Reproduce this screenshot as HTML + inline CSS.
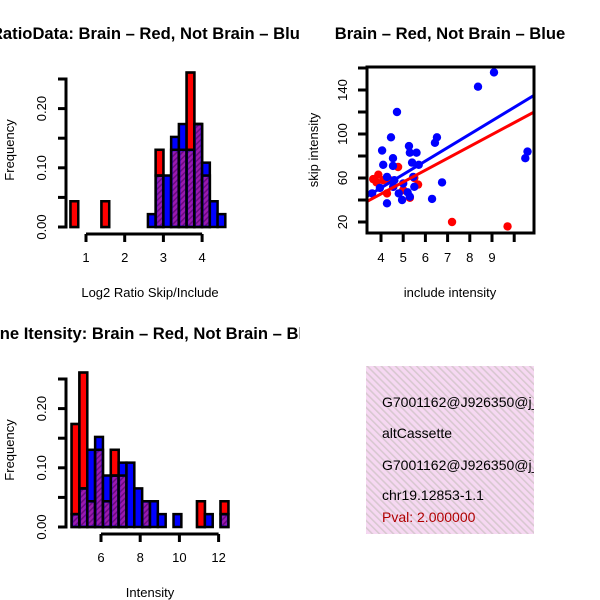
<!DOCTYPE html>
<html><head><meta charset="utf-8"><style>
html,body{margin:0;padding:0;background:#fff;}
svg{display:block;font-family:"Liberation Sans",sans-serif;}
</style></head><body>
<svg id="s" width="600" height="600" viewBox="0 0 600 600">
<defs>
<pattern id="ph" width="4" height="4" patternUnits="userSpaceOnUse" patternTransform="rotate(45)">
<rect width="4" height="4" fill="#9a1ab0"/><rect width="1.5" height="4" fill="#6a0a80"/></pattern>
<pattern id="pk" width="5" height="5" patternUnits="userSpaceOnUse" patternTransform="rotate(-45)">
<rect width="5" height="5" fill="#f6d8f2"/><rect width="1.6" height="5" fill="#d8c8d0"/></pattern>
<clipPath id="c1"><rect x="0" y="0" width="300" height="300"/></clipPath>
<clipPath id="c3"><rect x="0" y="300" width="300" height="300"/></clipPath>
<clipPath id="c2"><rect x="367" y="67" width="167" height="166"/></clipPath>
<clipPath id="c4"><rect x="366" y="366" width="168" height="168"/></clipPath>
</defs>
<g id="p1"></g>
<g id="p3"></g>
<g id="p2"></g>
<g clip-path="url(#c4)">
<rect x="366" y="366" width="168" height="168" fill="url(#pk)"/>
<text x="382" y="407" font-size="14">G7001162@J926350@j_at</text>
<text x="382" y="438" font-size="14">altCassette</text>
<text x="382" y="470" font-size="14">G7001162@J926350@j_at</text>
<text x="382" y="500" font-size="14">chr19.12853-1.1</text>
<text x="382" y="522" font-size="14" fill="#b00000">Pval: 2.000000</text>
</g>
</svg>
<script>
// ---- histogram 1 data (counts per bin) ----
const h1Breaks0 = 0.6, h1BinW = 0.2;
const h1Red  = [1,0,0,0,1,0,0,0,0,0,0,3,0,3,3,6,4,2,0,0];
const h1Blue = [0,0,0,0,0,0,0,0,0,0,1,4,4,7,8,6,8,5,2,1];
const h1XTicks = [1,2,3,4];
const h1YTicks = ["0.00","0.10","0.20"];
// ---- histogram 2 data ----
const h2Breaks0 = 4.5, h2BinW = 0.4;
const h2Red  = [4,6,1,3,1,3,2,0,0,1,0,0,0,0,0,0,1,0,0,1];
const h2Blue = [1,3,6,7,4,4,5,5,3,2,2,1,0,1,0,0,0,1,0,1];
const h2XTicks = [6,8,10,12];
const h2YTicks = ["0.00","0.10","0.20"];
// ---- scatter data ----
const blueX = [9.09,8.37,4.72,4.45,6.52,6.43,4.05,5.26,5.3,5.6,4.54,4.54,4.1,5.4,5.7,10.5,10.6,6.75,6.3,4.27,4.95,5.3,4.27,3.95,4.6,5.0,5.45,5.2,4.8,3.6,5.5,4.55];
const blueY = [156,143,120,97,97,92,85,89,83,83,78,71,72,74,72,78,84,56,41,37,40,43,61,51,58,55,61,47,46,46,52,52];
const redX = [3.65,3.88,3.8,4.1,4.77,5.5,5.67,4.55,4.27,5.3,7.2,9.7,4.4,5.0];
const redY = [59,63,56,58,70,60,54,52,46,42,20,16,58,49];
const blueFit = [2.2,12.2];
const redFit = [2.3,10.8];
const scXTicks = [4,5,6,7,8,9,10];
const scXLabels = ["4","5","6","7","8","9",""];
const scYTicks = [20,40,60,80,100,120,140,160];
const scYLabels = ["20","","60","","100","","140",""];

const NS="http://www.w3.org/2000/svg";
function mk(parent,tag,attrs,txt){const e=document.createElementNS(NS,tag);for(const k in attrs)e.setAttribute(k,attrs[k]);if(txt!==undefined)e.textContent=txt;parent.appendChild(e);return e;}

function hist(gid, oy, breaks0, binW, red, blue, xTicks, xScale, yTicks, title, xlabel, clip){
  const g=document.getElementById(gid);
  const nR=red.reduce((a,b)=>a+b,0), nB=blue.reduce((a,b)=>a+b,0);
  const y0=227+oy, pxPer=592;
  const Y=v=>y0-v*pxPer;
  const X=xScale;
  for(let i=0;i<red.length;i++){
    const x1=X(breaks0+i*binW), x2=X(breaks0+(i+1)*binW);
    const r=red[i]/nR, b=blue[i]/nB, m=Math.min(r,b);
    const rr=mk(g,'rect',{x:x1,y:Y(r),width:x2-x1,height:r*pxPer,fill:'#ff0000',stroke:'#000','stroke-width':2.5});
    
    
    const br=mk(g,'rect',{x:x1,y:Y(b),width:x2-x1,height:b*pxPer,fill:'#0000ff',stroke:'#000','stroke-width':2.5});
    
    
    if(r>b){
      const r2=mk(g,'rect',{x:x1,y:Y(r),width:x2-x1,height:(r-b)*pxPer,fill:'#ff0000',stroke:'#000','stroke-width':2.5});
      
      
    }
    if(m>0){
      const p=mk(g,'rect',{x:x1+1.5,y:Y(m)+1.5,width:x2-x1-3,height:m*pxPer-3,fill:'url(#ph)'});
      
      
      mk(g,'line',{x1:x1,x2:x2,y1:Y(m),y2:Y(m),stroke:'#000','stroke-width':2.5});
    }
  }
  const ya=mk(g,'path',{d:`M58 ${Y(0)}H66V${Y(0.25)}H58`,fill:'none',stroke:'#000','stroke-width':3});
  
  
  [0.05,0.1,0.15,0.2].forEach(v=>mk(g,'line',{x1:58,x2:66,y1:Y(v),y2:Y(v),stroke:'#000','stroke-width':3}));
  yTicks.forEach((t,i)=>{const yy=Y(i*0.1);const e=mk(g,'text',{x:0,y:0,'font-size':13,'text-anchor':'middle',transform:`translate(46 ${yy}) rotate(-90)`},t);
    
    });
  const yl=mk(g,'text',{'font-size':13,'text-anchor':'middle',transform:`translate(14 ${150+oy}) rotate(-90)`},'Frequency');
  
  
  const xa0=X(xTicks[0]), xa1=X(xTicks[xTicks.length-1]);
  const xa=mk(g,'line',{x1:xa0,x2:xa1,y1:234+oy,y2:234+oy,stroke:'#000','stroke-width':3});
  
  
  xTicks.forEach(t=>{mk(g,'line',{x1:X(t),x2:X(t),y1:234+oy,y2:242+oy,stroke:'#000','stroke-width':3});
    const e=mk(g,'text',{x:X(t),y:262+oy,'font-size':13,'text-anchor':'middle'},t);
    
    });
  const xl=mk(g,'text',{x:150,y:297+oy,'font-size':13,'text-anchor':'middle'},xlabel);
  
  
  const tt=mk(g,'text',{x:150,y:39+oy,'font-size':16.6,'font-weight':'bold','text-anchor':'middle','clip-path':`url(#${clip})`},title);
  
  
}
hist('p1',0,h1Breaks0,h1BinW,h1Red,h1Blue,h1XTicks,v=>86+(v-1)*38.7,h1YTicks,'RatioData: Brain \u2013 Red, Not Brain \u2013 Blue','Log2 Ratio Skip/Include','c1');
hist('p3',300,h2Breaks0,h2BinW,h2Red,h2Blue,h2XTicks,v=>101+(v-6)*19.6,h2YTicks,'Gene Itensity: Brain \u2013 Red, Not Brain \u2013 Blue','Intensity','c3');

(function(){
  const g=document.getElementById('p2');
  const X=v=>381+(v-4)*22.2, Y=v=>222-(v-20)*1.1;
  const pts=mk(g,'g',{'clip-path':'url(#c2)'});
  redX.forEach((x,i)=>{const c=mk(pts,'circle',{cx:X(x),cy:Y(redY[i]),r:4.2,fill:'#ff0000'});
    
    });
  blueX.forEach((x,i)=>{const c=mk(pts,'circle',{cx:X(x),cy:Y(blueY[i]),r:4.2,fill:'#0000ff'});
    
    });
  const xa=3.2,xb=11.2;
  const bl=mk(pts,'line',{x1:X(xa),y1:Y(blueFit[0]+blueFit[1]*xa),x2:X(xb),y2:Y(blueFit[0]+blueFit[1]*xb),stroke:'#0000ff','stroke-width':3});
  
  
  const rl=mk(pts,'line',{x1:X(xa),y1:Y(redFit[0]+redFit[1]*xa),x2:X(xb),y2:Y(redFit[0]+redFit[1]*xb),stroke:'#ff0000','stroke-width':3});
  
  
  const box=mk(g,'rect',{x:367,y:67,width:167,height:166,fill:'none',stroke:'#000','stroke-width':3});
  
  
  scYTicks.forEach((t,i)=>{mk(g,'line',{x1:358,x2:367,y1:Y(t),y2:Y(t),stroke:'#000','stroke-width':3});
    if(scYLabels[i]){const e=mk(g,'text',{'font-size':13,'text-anchor':'middle',transform:`translate(347 ${Y(t)}) rotate(-90)`},scYLabels[i]);
    
    }});
  scXTicks.forEach((t,i)=>{mk(g,'line',{x1:X(t),x2:X(t),y1:233,y2:242,stroke:'#000','stroke-width':3});
    if(scXLabels[i]){const e=mk(g,'text',{x:X(t),y:262,'font-size':13,'text-anchor':'middle'},scXLabels[i]);
    
    }});
  const yl=mk(g,'text',{'font-size':13,'text-anchor':'middle',transform:'translate(318 150) rotate(-90)'},'skip intensity');
  
  
  const xl=mk(g,'text',{x:450,y:297,'font-size':13,'text-anchor':'middle'},'include intensity');
  
  
  const tt=mk(g,'text',{x:450,y:39,'font-size':16.6,'font-weight':'bold','text-anchor':'middle'},'Brain \u2013 Red, Not Brain \u2013 Blue');
  
  
})();
</script>
</body></html>
